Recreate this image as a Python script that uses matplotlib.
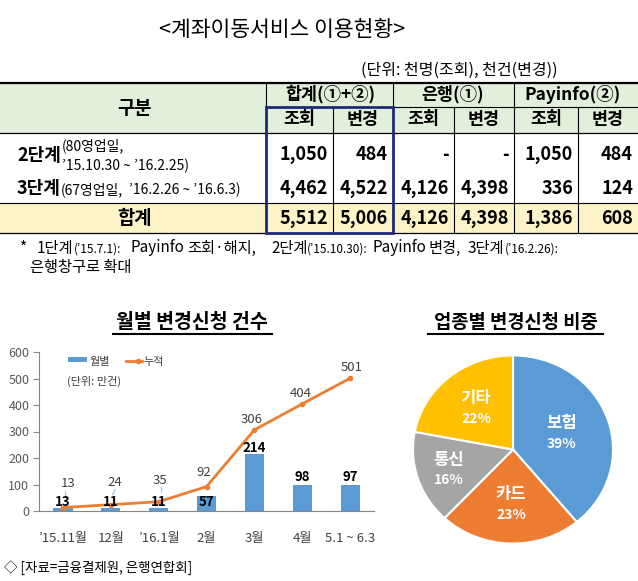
import numpy as np
import matplotlib
matplotlib.use('Agg')
import matplotlib.pyplot as plt
from matplotlib.patches import Rectangle

plt.rcParams['font.family'] = ['Noto Sans CJK KR', 'DejaVu Sans']

# ---------------- data ----------------
table_title = '<계좌이동서비스 이용현황>'
unit_text = '(단위: 천명(조회), 천건(변경))'
group_headers = ['합계(①+②)', '은행(①)', 'Payinfo(②)']
sub_headers = ['조회', '변경', '조회', '변경', '조회', '변경']
row_stage2 = ['1,050', '484', '-', '-', '1,050', '484']
row_stage3 = ['4,462', '4,522', '4,126', '4,398', '336', '124']
row_total = ['5,512', '5,006', '4,126', '4,398', '1,386', '608']

months = ["’15.11월", '12월', "’16.1월", '2월', '3월', '4월', '5.1 ~ 6.3']
monthly = [13, 11, 11, 57, 214, 98, 97]
cumulative = [13, 24, 35, 92, 306, 404, 501]

sectors = ['보험', '카드', '통신', '기타']
shares = [39, 23, 16, 22]

# ---------------- figure ----------------
W, H = 638, 581
fig = plt.figure(figsize=(W / 100, H / 100), dpi=100)
ax = fig.add_axes([0, 0, 1, 1])
ax.set_xlim(0, W)
ax.set_ylim(H, 0)
ax.axis('off')
renderer = fig.canvas.get_renderer()


def run_text(x, y, parts, color='black'):
    for s, size, weight, gap in parts:
        t = ax.text(x, y, s, fontsize=size, fontweight=weight, va='baseline',
                    ha='left', color=color)
        bb = t.get_window_extent(renderer=renderer)
        x += bb.width + gap


# title and unit
ax.text(282, 30, table_title, ha='center', va='center', fontsize=15.5)
ax.text(558, 70, unit_text, ha='right', va='center', fontsize=11.5)

# backgrounds
ax.add_patch(Rectangle((0, 83), W, 50, facecolor='#e2efda', edgecolor='none'))
ax.add_patch(Rectangle((0, 203), W, 30, facecolor='#fcf3c6', edgecolor='none'))

# grid lines
ax.plot([0, W], [83, 83], color='black', lw=1.6)
ax.plot([266, W], [107, 107], color='black', lw=0.8)
ax.plot([0, W], [133, 133], color='black', lw=0.9)
ax.plot([0, W], [203, 203], color='black', lw=0.8)
ax.plot([0, W], [233, 233], color='black', lw=0.9)
for xv in [266, 393, 514]:
    ax.plot([xv, xv], [83, 233], color='black', lw=0.8)
for xv in [333, 454, 578]:
    ax.plot([xv, xv], [107, 233], color='black', lw=0.8)
ax.add_patch(Rectangle((266, 107), 127, 126, facecolor='none',
                       edgecolor='#1f2a7a', lw=2, zorder=5))

# headers
ax.text(134, 108, '구분', ha='center', va='center', fontsize=13.5, fontweight='bold')
group_centers = [330, 453, 572]
for s, xc in zip(group_headers, group_centers):
    ax.text(xc, 94, s, ha='center', va='center', fontsize=12.5, fontweight='bold')
sub_centers = [299.5, 363, 423.5, 484, 546, 608]
for s, xc in zip(sub_headers, sub_centers):
    ax.text(xc, 119.5, s, ha='center', va='center', fontsize=12.5, fontweight='bold')

# body numbers
right_edges = [328, 388, 449, 509, 573, 633]
for row, yc in zip([row_stage2, row_stage3, row_total], [155, 188, 218]):
    for s, xr in zip(row, right_edges):
        ax.text(xr, yc, s, ha='right', va='center', fontsize=13, fontweight='bold')

# row labels
run_text(17, 161, [('2단계', 13, 'bold', 1)])
run_text(62, 150, [('(80영업일,', 10, 'normal', 0)])
run_text(62, 170, [('’15.10.30 ~ ’16.2.25)', 10, 'normal', 0)])
run_text(17, 194, [('3단계', 13, 'bold', 0),
                   ('(67영업일,', 10, 'normal', 6),
                   ('’16.2.26 ~ ’16.6.3)', 10, 'normal', 0)])
ax.text(134, 218, '합계', ha='center', va='center', fontsize=13.5, fontweight='bold')

# footnote (groups placed at their starting x, pieces inside a group chained)
foot_groups = [
    (20, [('*', 11, 'normal', 0)]),
    (37, [('1단계', 11, 'normal', 0), ('(’15.7.1):', 8.5, 'normal', 0)]),
    (130, [('Payinfo', 11, 'normal', 0)]),
    (187, [('조회·해지,', 11, 'normal', 0)]),
    (271, [('2단계', 11, 'normal', 0), ('(’15.10.30):', 8.5, 'normal', 0)]),
    (372, [('Payinfo', 11, 'normal', 0)]),
    (429, [('변경,', 11, 'normal', 0)]),
    (468, [('3단계', 11, 'normal', 0), ('(’16.2.26):', 8.5, 'normal', 0)]),
]
for xs, parts in foot_groups:
    run_text(xs, 252.5, parts)
ax.text(30, 272, '은행창구로 확대', ha='left', va='baseline', fontsize=11)

# ---------------- bar + line chart ----------------
ax.text(192, 323, '월별 변경신청 건수', ha='center', va='center', fontsize=14,
        fontweight='bold')
ax.plot([113, 272], [334, 334], color='black', lw=1.5)

ax2 = fig.add_axes([39 / W, 1 - 511 / H, (374 - 39) / W, (511 - 352) / H])
ax2.patch.set_alpha(0)
x = np.arange(len(months))
ax2.bar(x, monthly, width=0.4, color='#5b9bd5', zorder=2)
ax2.plot(x, cumulative, color='#ed7d31', lw=2, marker='o', markersize=3,
         zorder=3)
ax2.set_xlim(-0.5, len(months) - 0.5)
ax2.set_ylim(0, 600)
ax2.set_yticks(range(0, 601, 100))
ax2.set_xticks(x)
ax2.set_xticklabels(months, fontsize=9.5, color='#404040')
ax2.tick_params(axis='x', length=0, pad=15)
ax2.tick_params(axis='y', length=4, color='#868686', labelsize=9,
                labelcolor='#595959', pad=3)
for side in ['top', 'right']:
    ax2.spines[side].set_visible(False)
for side in ['left', 'bottom']:
    ax2.spines[side].set_color('#868686')

# monthly labels (offsets in points)
bar_offsets = [4.2, 4.5, 4.5, -4.4, 4.8, 5.8, 6.0]
for xi, v, off in zip(x, monthly, bar_offsets):
    ax2.annotate(str(v), (xi, v), xytext=(0, off), textcoords='offset points',
                 ha='center', va='center', fontsize=9.5, fontweight='bold',
                 color='black', zorder=6)
# cumulative labels
cum_offsets = [(3.6, 17), (3, 15.6), (0.7, 15.6), (-2.2, 10.5), (-2.2, 7.2),
               (-1.4, 7.8), (1.4, 7.4)]
for xi, v, (dx, dy) in zip(x, cumulative, cum_offsets):
    ax2.annotate(str(v), (xi, v), xytext=(dx, dy), textcoords='offset points',
                 ha='center', va='center', fontsize=9.5, color='#404040')
# small leader lines from labels to line
for xi, v, (dx, dy), lean in zip(x[:3], cumulative[:3], cum_offsets[:3],
                                 [0.0, 0.05, 0.0]):
    top = v + (dy * 100 / 72 - 7) * 600 / 159
    bot = v + 38
    ax2.plot([xi + 0.04 + lean, xi + 0.04], [top, bot], color='#9dc3e6',
             lw=0.9, zorder=4)

# legend (pixel coords on overlay)
ax.add_patch(Rectangle((68, 356.5), 19, 5, facecolor='#5b9bd5', edgecolor='none'))
ax.text(90, 362, '월별', ha='left', va='center', fontsize=8, color='#404040')
ax.plot([126, 142], [360.5, 360.5], color='#ed7d31', lw=2)
ax.plot([138], [360.5], marker='o', markersize=3, color='#ed7d31')
ax.text(143, 362, '누적', ha='left', va='center', fontsize=8, color='#404040')
ax.text(67, 381, '(단위: 만건)', ha='left', va='center', fontsize=8, color='#404040')

# source
ax.text(4, 568, '◇ [자료=금융결제원, 은행연합회]', ha='left', va='center',
        fontsize=9.7, color='black')

# ---------------- pie chart ----------------
ax.text(516, 323, '업종별 변경신청 비중', ha='center', va='center', fontsize=13.5,
        fontweight='bold')
ax.plot([428, 603], [334, 334], color='black', lw=1.5)

pcx, pcy, prx, pry = 513, 449.5, 101, 95
ax3 = fig.add_axes([(pcx - prx) / W, 1 - (pcy + pry) / H, 2 * prx / W, 2 * pry / H])
wedges, _ = ax3.pie(shares, colors=['#5b9bd5', '#ed7d31', '#a5a5a5', '#ffc000'],
                    startangle=90, counterclock=False,
                    wedgeprops=dict(edgecolor='white', linewidth=1.5))
ax3.set_aspect('auto')
ax3.set_xlim(-1.01, 1.01)
ax3.set_ylim(-1.01, 1.01)
dists = [0.52, 0.58, 0.68, 0.58]
for w, name, pct, d in zip(wedges, sectors, shares, dists):
    th = np.deg2rad((w.theta1 + w.theta2) / 2)
    px, py = d * np.cos(th), d * np.sin(th)
    ax3.annotate(name, (px, py), xytext=(0, 7), textcoords='offset points',
                 ha='center', va='center', fontsize=12, fontweight='bold',
                 color='white')
    ax3.annotate(f'{pct}%', (px, py), xytext=(0, -8), textcoords='offset points',
                 ha='center', va='center', fontsize=10, fontweight='bold',
                 color='white')

fig.savefig('out.png', dpi=100)
